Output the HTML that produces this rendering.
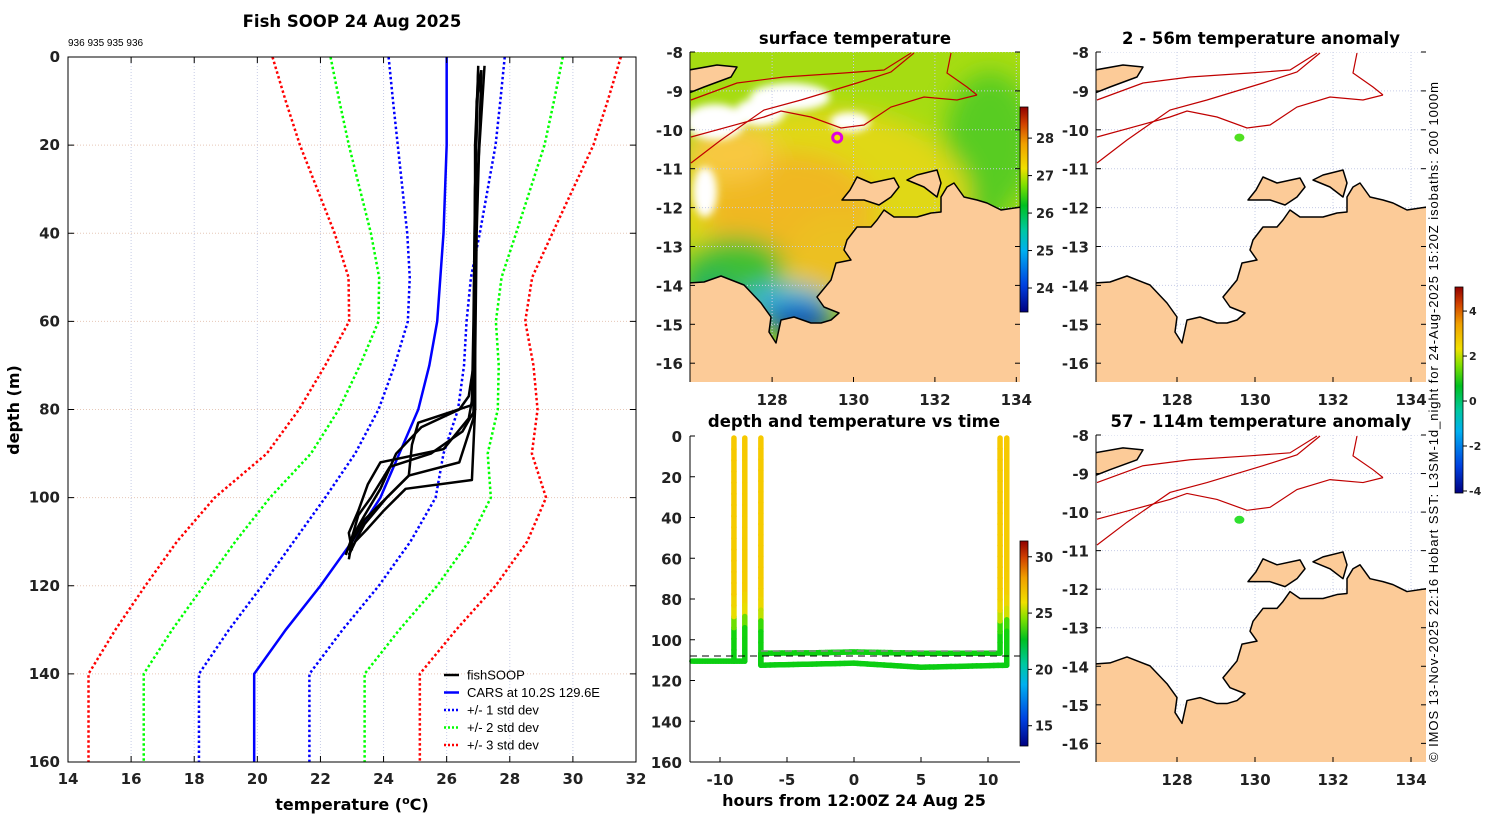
<!DOCTYPE html>
<html><head><meta charset="utf-8"><style>
body{margin:0;background:#fff}
svg{display:block;font-family:"Liberation Sans","DejaVu Sans",sans-serif}
.t{font-family:"DejaVu Sans","Liberation Sans",sans-serif;font-weight:bold}
</style></head><body>
<svg id="s" width="1500" height="820" viewBox="0 0 1500 820" xmlns="http://www.w3.org/2000/svg">
<defs>
<filter id="bl" x="-50%" y="-50%" width="200%" height="200%"><feGaussianBlur stdDeviation="12"/></filter>
<filter id="bl2" x="-50%" y="-50%" width="200%" height="200%"><feGaussianBlur stdDeviation="4"/></filter>
<linearGradient id="jet" x1="0" y1="1" x2="0" y2="0">
<stop offset="0" stop-color="#000080"/><stop offset="0.13" stop-color="#0040e0"/><stop offset="0.3" stop-color="#00b0f0"/><stop offset="0.4" stop-color="#00c8a0"/><stop offset="0.52" stop-color="#00c020"/><stop offset="0.62" stop-color="#80e000"/><stop offset="0.7" stop-color="#f0e000"/><stop offset="0.82" stop-color="#f0a000"/><stop offset="0.92" stop-color="#d04000"/><stop offset="1" stop-color="#900000"/>
</linearGradient>
</defs>
<g id="left"></g>
<g id="sst"></g>
<g id="tvt"></g>
<g id="an1"></g>
<g id="an2"></g>
<text x="1438" y="762" font-size="13" transform="rotate(-90 1438 762)" textLength="680">© IMOS 13-Nov-2025 22:16 Hobart SST: L3SM-1d_night for 24-Aug-2025 15:20Z isobaths: 200  1000m</text>
</svg>
<script>
// ---------- data: profile chart ----------
const carsDepth=[0,10,20,30,40,50,60,70,80,90,100,110,120,130,140,150,160];
const carsMean=[26.0,26.0,26.0,25.95,25.9,25.8,25.7,25.45,25.1,24.5,23.9,23.0,22.0,20.9,19.9,19.9,19.9];
const carsStd=[1.84,1.7,1.55,1.35,1.15,0.97,0.93,1.1,1.26,1.4,1.75,1.85,1.85,1.8,1.75,1.75,1.75];
const tempTicks=[14,16,18,20,22,24,26,28,30,32];
const depthTicks=[0,20,40,60,80,100,120,140,160];
const fishDepth=[[3,10,40,70,80,96,98,103,107,110,113],[3,20,50,75,82,92,95,100,105,110,114],[2,30,60,78,82,89,92,97,103,108,112],[4,30,60,79,83,88,95,100,106,110,113],[3,40,70,80,85,90,93,100,104,109,112],[2,30,70,77,80,84,90,98,104,109,113]];
const fishTemp=[[27.1,26.95,26.9,26.9,26.9,26.8,24.7,24.0,23.5,23.1,22.9],[27.0,26.9,26.9,26.85,26.85,26.4,24.8,24.1,23.4,23.0,22.9],[27.2,26.95,26.9,26.8,26.7,25.9,23.9,23.5,23.2,22.9,23.0],[27.0,26.9,26.85,26.8,25.1,24.9,24.8,24.1,23.4,23.1,22.9],[27.1,26.95,26.9,26.9,26.5,25.5,24.2,23.6,23.2,23.0,22.9],[27.0,26.9,26.85,26.7,26.4,25.2,24.4,23.9,23.4,23.0,22.8]];
// ---------- data: depth vs time ----------
const trackHours=[-8.96,-8.96,null,-8.15,-8.15,-12.1,null,-6.95,-6.95,-3,0,5,10.9,10.9,null,11.4,11.4,5,0,-6.95,-6.95];
const trackDepth=[110.5,1,null,1,110.5,110.5,null,1,106.6,106.4,106,106.6,106.6,1,null,1,112.5,113.5,111.5,112.5,106.6];
const tpDepth=[0,75,85,95,120];
const tpTemp=[27.3,27.1,26.0,23.3,23.0];
const hourTicks=[-10,-5,0,5,10];
const tvtDepthTicks=[0,20,40,60,80,100,120,140,160];
const tvtCbTicks=[15,20,25,30];
// ---------- map ticks ----------
const lonTicks=[128,130,132,134];
const latTicks=[-8,-9,-10,-11,-12,-13,-14,-15,-16];
const sstCbTicks=[24,25,26,27,28];
const anCbTicks=[-4,-2,0,2,4];

const NS="http://www.w3.org/2000/svg";
function mk(p,tag,a,txt){const e=document.createElementNS(NS,tag);for(const k in a)e.setAttribute(k,a[k]);if(txt!==undefined)e.textContent=txt;p.appendChild(e);return e;}
function interp(xs,ys,x){for(let i=0;i<xs.length-1;i++){if(x<=xs[i+1]){const f=(x-xs[i])/(xs[i+1]-xs[i]);return ys[i]+f*(ys[i+1]-ys[i]);}}return ys[ys.length-1];}

// ===== Left profile chart =====
(function(){
const g=document.getElementById('left');
const X0=68,X1=636,Y0=57,Y1=762;
const sx=t=>X0+(t-14)/18*(X1-X0), sy=d=>Y0+d/160*(Y1-Y0);
let e;
for(const t of tempTicks){e=mk(g,'line',{x1:sx(t),x2:sx(t),y1:Y0,y2:Y1,stroke:'#c6cce6','stroke-dasharray':'1,2'});
}
for(const d of depthTicks){e=mk(g,'line',{x1:X0,x2:X1,y1:sy(d),y2:sy(d),stroke:'#e6c8b8','stroke-dasharray':'1,2'});
}
const cols=['#0000ff','#00ff00','#ff0000'];
for(let k=3;k>=1;k--){for(const s of [-1,1]){
 const pts=carsDepth.map((d,i)=>sx(carsMean[i]+s*k*carsStd[i])+','+sy(d)).join(' ');
 e=mk(g,'polyline',{points:pts,fill:'none',stroke:cols[k-1],'stroke-width':2.5,'stroke-dasharray':'2.5,2.5'});
 }}
e=mk(g,'polyline',{points:carsDepth.map((d,i)=>sx(carsMean[i])+','+sy(d)).join(' '),fill:'none',stroke:'#0000ff','stroke-width':2.5});

fishDepth.forEach((ds,j)=>{e=mk(g,'polyline',{points:ds.map((d,i)=>sx(fishTemp[j][i])+','+sy(d)).join(' '),fill:'none',stroke:'#000','stroke-width':2.5,'stroke-linejoin':'round'});
 });
e=mk(g,'rect',{x:X0,y:Y0,width:X1-X0,height:Y1-Y0,fill:'none',stroke:'#000'});

for(const t of tempTicks){mk(g,'line',{x1:sx(t),x2:sx(t),y1:Y1,y2:Y1-6,stroke:'#000'});mk(g,'line',{x1:sx(t),x2:sx(t),y1:Y0,y2:Y0+6,stroke:'#000'});
 e=mk(g,'text',{x:sx(t),y:Y1+22,'text-anchor':'middle','font-size':15,class:'t',fill:'#222'},t);
 }
for(const d of depthTicks){mk(g,'line',{x1:X0,x2:X0+6,y1:sy(d),y2:sy(d),stroke:'#000'});mk(g,'line',{x1:X1,x2:X1-6,y1:sy(d),y2:sy(d),stroke:'#000'});
 e=mk(g,'text',{x:X0-8,y:sy(d)+5,'text-anchor':'end','font-size':15,class:'t',fill:'#222'},d);
 }
e=mk(g,'text',{x:352,y:27,'text-anchor':'middle','font-size':16.5,class:'t'},'Fish SOOP 24 Aug 2025');

e=mk(g,'text',{x:68,y:46,'font-size':10},'936 935 935 936');

e=mk(g,'text',{x:19,y:410,'text-anchor':'middle','font-size':16,class:'t',transform:'rotate(-90 19 410)'},'depth (m)');

e=mk(g,'text',{x:352,y:810,'text-anchor':'middle','font-size':16,class:'t'},'');
e.innerHTML='temperature (<tspan dy="-6" font-size="11">o</tspan><tspan dy="6">C)</tspan>';

const leg=[['fishSOOP','#000',''],['CARS at 10.2S 129.6E','#0000ff',''],['+/- 1 std dev','#0000ff','2,2'],['+/- 2 std dev','#00ff00','2,2'],['+/- 3 std dev','#ff0000','2,2']];
leg.forEach((l,i)=>{const y=675+i*17.5;
 const lg=mk(g,'g',{});
 mk(lg,'line',{x1:444,x2:459,y1:y,y2:y,stroke:l[1],'stroke-width':2.5,'stroke-dasharray':l[2]||'none'});
 mk(lg,'text',{x:467,y:y+4.5,'font-size':13},l[0]);});
})();

// ===== maps =====
const coastMain=[[-1,231],[14,230],[31,224],[54,233],[71,251],[81,265],[79,280],[86,291],[91,268],[104,265],[121,271],[131,271],[141,268],[149,261],[134,255],[127,245],[141,228],[146,211],[161,208],[154,198],[157,188],[167,175],[181,175],[187,168],[194,158],[204,165],[227,165],[241,161],[251,160],[251,145],[257,135],[264,131],[274,145],[287,148],[297,151],[311,158],[331,155],[331,331],[-1,331]];
const island1=[[152,148],[160,138],[167,125],[181,131],[204,126],[209,135],[201,145],[189,153],[174,148]];
const island2=[[217,128],[227,123],[247,118],[251,131],[247,145],[234,135]];
const timor=[[-1,18],[27,13],[47,15],[41,25],[14,35],[-1,41]];
const isoA=[[1,85],[74,65],[91,59],[121,65],[151,76],[174,73],[201,55],[234,45],[267,48],[287,43]];
const isoB=[[1,111],[31,88],[74,58],[111,48],[167,31],[201,20],[224,1]];
const isoC=[[1,48],[47,31],[94,25],[154,21],[194,18],[221,1]];
const isoD=[[261,1],[257,21],[277,35],[287,43]];
function drawMap(g,ox,oy,h,title,sst,lonOff,lonScale){
 const ky=h/330, P=a=>a.map(p=>(ox+p[0])+','+(oy+p[1]*ky)).join(' ');
 let e;
 const cid='clip'+ox+oy;const cp=mk(g,'clipPath',{id:cid});mk(cp,'rect',{x:ox,y:oy,width:330,height:h});
 const cg=mk(g,'g',{'clip-path':'url(#'+cid+')'});
 if(sst){
  mk(cg,'rect',{x:ox,y:oy,width:330,height:h,fill:'#a6dc12'});
  const bl=mk(cg,'g',{filter:'url(#bl)'});
  const blobs=[[300,90,45,70,'#58cc20'],[250,170,60,40,'#50c828'],[310,205,30,25,'#20c0a0'],[130,150,150,95,'#e0d814'],[100,160,85,60,'#f0b822'],[150,200,50,40,'#ecc020'],[45,215,50,30,'#40c030'],[20,240,30,20,'#20b060'],[95,250,45,18,'#30b0d8'],[110,268,35,14,'#0030b8'],[40,100,45,30,'#f8c840']];
  blobs.forEach(b=>mk(bl,'ellipse',{cx:ox+b[0],cy:oy+b[1],rx:b[2],ry:b[3],fill:b[4]}));
  const wh=mk(cg,'g',{filter:'url(#bl2)'});
  const whites=[[25,70,30,18],[100,45,40,14],[70,60,25,14],[15,140,12,25],[160,70,20,10]];
  whites.forEach(b=>mk(wh,'ellipse',{cx:ox+b[0],cy:oy+b[1],rx:b[2],ry:b[3],fill:'#fff'}));
 } else mk(cg,'rect',{x:ox,y:oy,width:330,height:h,fill:'#fff'});
 const gx=lon=>ox+lonOff+(lon-126)*lonScale, gy=lat=>oy+(-8-lat)*38.9*ky;
 for(const l of lonTicks){e=mk(cg,'line',{x1:gx(l),x2:gx(l),y1:oy,y2:oy+h,stroke:'#c6cce6','stroke-dasharray':'1,2'});}
 for(const l of latTicks){e=mk(cg,'line',{x1:ox,x2:ox+330,y1:gy(l),y2:gy(l),stroke:'#c6cce6','stroke-dasharray':'1,2'});}
 for(const iso of [isoA,isoB,isoC,isoD]){e=mk(cg,'polyline',{points:P(iso),fill:'none',stroke:'#c00000','stroke-width':1.2});}
 for(const poly of [coastMain,island1,island2,timor]){e=mk(cg,'polygon',{points:P(poly),fill:'#fccb98',stroke:'#000','stroke-width':1.5,'stroke-linejoin':'round'});}
 mk(g,'line',{x1:ox,x2:ox,y1:oy,y2:oy+h,stroke:'#000'});
 for(const l of latTicks){mk(g,'line',{x1:ox,x2:ox+5,y1:gy(l),y2:gy(l),stroke:'#000'});mk(g,'line',{x1:ox+330,x2:ox+325,y1:gy(l),y2:gy(l),stroke:'#000'});
  e=mk(g,'text',{x:ox-7,y:gy(l)+6,'text-anchor':'end','font-size':15,class:'t',fill:'#222'},l);}
 for(const l of lonTicks){mk(g,'line',{x1:gx(l),x2:gx(l),y1:oy+h,y2:oy+h-5,stroke:'#000'});
  e=mk(g,'text',{x:gx(l),y:oy+h+23,'text-anchor':'middle','font-size':15,class:'t',fill:'#222'},l);}
 e=mk(g,'text',{x:ox+165,y:oy-8,'text-anchor':'middle','font-size':16.5,class:'t'},title);
 return {gx,gy};
}
const m1=drawMap(document.getElementById('sst'),690,52,330,'surface temperature',true,0.7,40.7);
(function(){const g=document.getElementById('sst');let e;
 e=mk(g,'circle',{cx:m1.gx(129.6),cy:m1.gy(-10.2),r:4.5,fill:'#f0e000',stroke:'#e000e0','stroke-width':3});
 e=mk(g,'rect',{x:1020,y:107,width:8,height:205,fill:'url(#jet)',stroke:'#000','stroke-width':0.8});
 const cy=v=>312-(v-23.36)/(28.83-23.36)*205;
 for(const v of sstCbTicks){mk(g,'line',{x1:1028,x2:1032,y1:cy(v),y2:cy(v),stroke:'#000'});e=mk(g,'text',{x:1036,y:cy(v)+5,'font-size':13,class:'t',fill:'#222'},v);}
})();
const m2=drawMap(document.getElementById('an1'),1096,52,330,'2 - 56m temperature anomaly',false,3,39);
const m3=drawMap(document.getElementById('an2'),1096,435,327,'57 - 114m temperature anomaly',false,3,39);
(function(){let e;
 e=mk(document.getElementById('an1'),'ellipse',{cx:m2.gx(129.6),cy:m2.gy(-10.2),rx:5,ry:4,fill:'#50e020'});
 e=mk(document.getElementById('an2'),'ellipse',{cx:m3.gx(129.6),cy:m3.gy(-10.2),rx:5,ry:4,fill:'#30e030'});
 const g=document.getElementById('an2');
 e=mk(g,'rect',{x:1455,y:287,width:8,height:206,fill:'url(#jet)',stroke:'#000','stroke-width':0.8});
 const cy=v=>493-(v+4.09)/(5.07+4.09)*206;
 for(const v of anCbTicks){mk(g,'line',{x1:1463,x2:1467,y1:cy(v),y2:cy(v),stroke:'#000'});e=mk(g,'text',{x:1469,y:cy(v)+4,'font-size':11,class:'t',fill:'#222'},v);}
})();

// ===== depth vs time =====
(function(){
const g=document.getElementById('tvt');
const X0=690,X1=1020,Y0=436,Y1=762;
const sx=h=>854+h*13.4, sy=d=>Y0+d/160*(Y1-Y0);
let e;
const cmap=t=>{const f=(t-13.2)/(31.4-13.2);const st=[[0,[0,0,128]],[0.13,[0,64,224]],[0.3,[0,176,240]],[0.4,[0,200,160]],[0.52,[0,192,32]],[0.56,[20,215,10]],[0.62,[128,224,0]],[0.68,[230,224,0]],[0.8,[250,195,0]],[0.92,[208,64,0]],[1,[144,0,0]]];
 for(let i=0;i<st.length-1;i++){if(f<=st[i+1][0]){const u=(f-st[i][0])/(st[i+1][0]-st[i][0]);const c=st[i][1].map((v,j)=>Math.round(v+u*(st[i+1][1][j]-v)));return 'rgb('+c+')';}}return 'rgb(144,0,0)';};
for(let i=0;i<trackHours.length-1;i++){
 if(trackHours[i]===null||trackHours[i+1]===null)continue;
 const n=20;
 for(let k=0;k<n;k++){const a=k/n,b=(k+1)/n;
  const h0=trackHours[i]+(trackHours[i+1]-trackHours[i])*a,h1=trackHours[i]+(trackHours[i+1]-trackHours[i])*b;
  const d0=trackDepth[i]+(trackDepth[i+1]-trackDepth[i])*a,d1=trackDepth[i]+(trackDepth[i+1]-trackDepth[i])*b;
  e=mk(g,'line',{x1:sx(h0),y1:sy(d0),x2:sx(h1),y2:sy(d1),stroke:cmap(interp(tpDepth,tpTemp,(d0+d1)/2)),'stroke-width':5.5,'stroke-linecap':'round'});
  }
}
e=mk(g,'line',{x1:sx(-6.95),x2:sx(10.9),y1:sy(105.5),y2:sy(105.5),stroke:'#888','stroke-dasharray':'7,5','stroke-width':1.5});
e=mk(g,'line',{x1:X0,x2:X1,y1:sy(108),y2:sy(108),stroke:'#000','stroke-dasharray':'7,5'});
mk(g,'line',{x1:X0,x2:X0,y1:Y0,y2:Y1,stroke:'#000'});mk(g,'line',{x1:X0,x2:X1,y1:Y1,y2:Y1,stroke:'#000'});
for(const d of tvtDepthTicks){mk(g,'line',{x1:X0,x2:X0+5,y1:sy(d),y2:sy(d),stroke:'#000'});e=mk(g,'text',{x:X0-8,y:sy(d)+6,'text-anchor':'end','font-size':15,class:'t',fill:'#222'},d);}
for(const h of hourTicks){mk(g,'line',{x1:sx(h),x2:sx(h),y1:Y1,y2:Y1-5,stroke:'#000'});e=mk(g,'text',{x:sx(h),y:Y1+23,'text-anchor':'middle','font-size':15,class:'t',fill:'#222'},h);}
e=mk(g,'text',{x:854,y:427,'text-anchor':'middle','font-size':16.5,class:'t'},'depth and temperature vs time');
e=mk(g,'text',{x:854,y:806,'text-anchor':'middle','font-size':16,class:'t'},'hours from 12:00Z 24 Aug 25');
e=mk(g,'rect',{x:1020,y:541,width:8,height:205,fill:'url(#jet)',stroke:'#000','stroke-width':0.8});
const cy=v=>746-(v-13.2)/(31.4-13.2)*205;
for(const v of tvtCbTicks){mk(g,'line',{x1:1028,x2:1032,y1:cy(v),y2:cy(v),stroke:'#000'});e=mk(g,'text',{x:1035,y:cy(v)+5,'font-size':13,class:'t',fill:'#222'},v);}
})();
</script>
</body></html>
